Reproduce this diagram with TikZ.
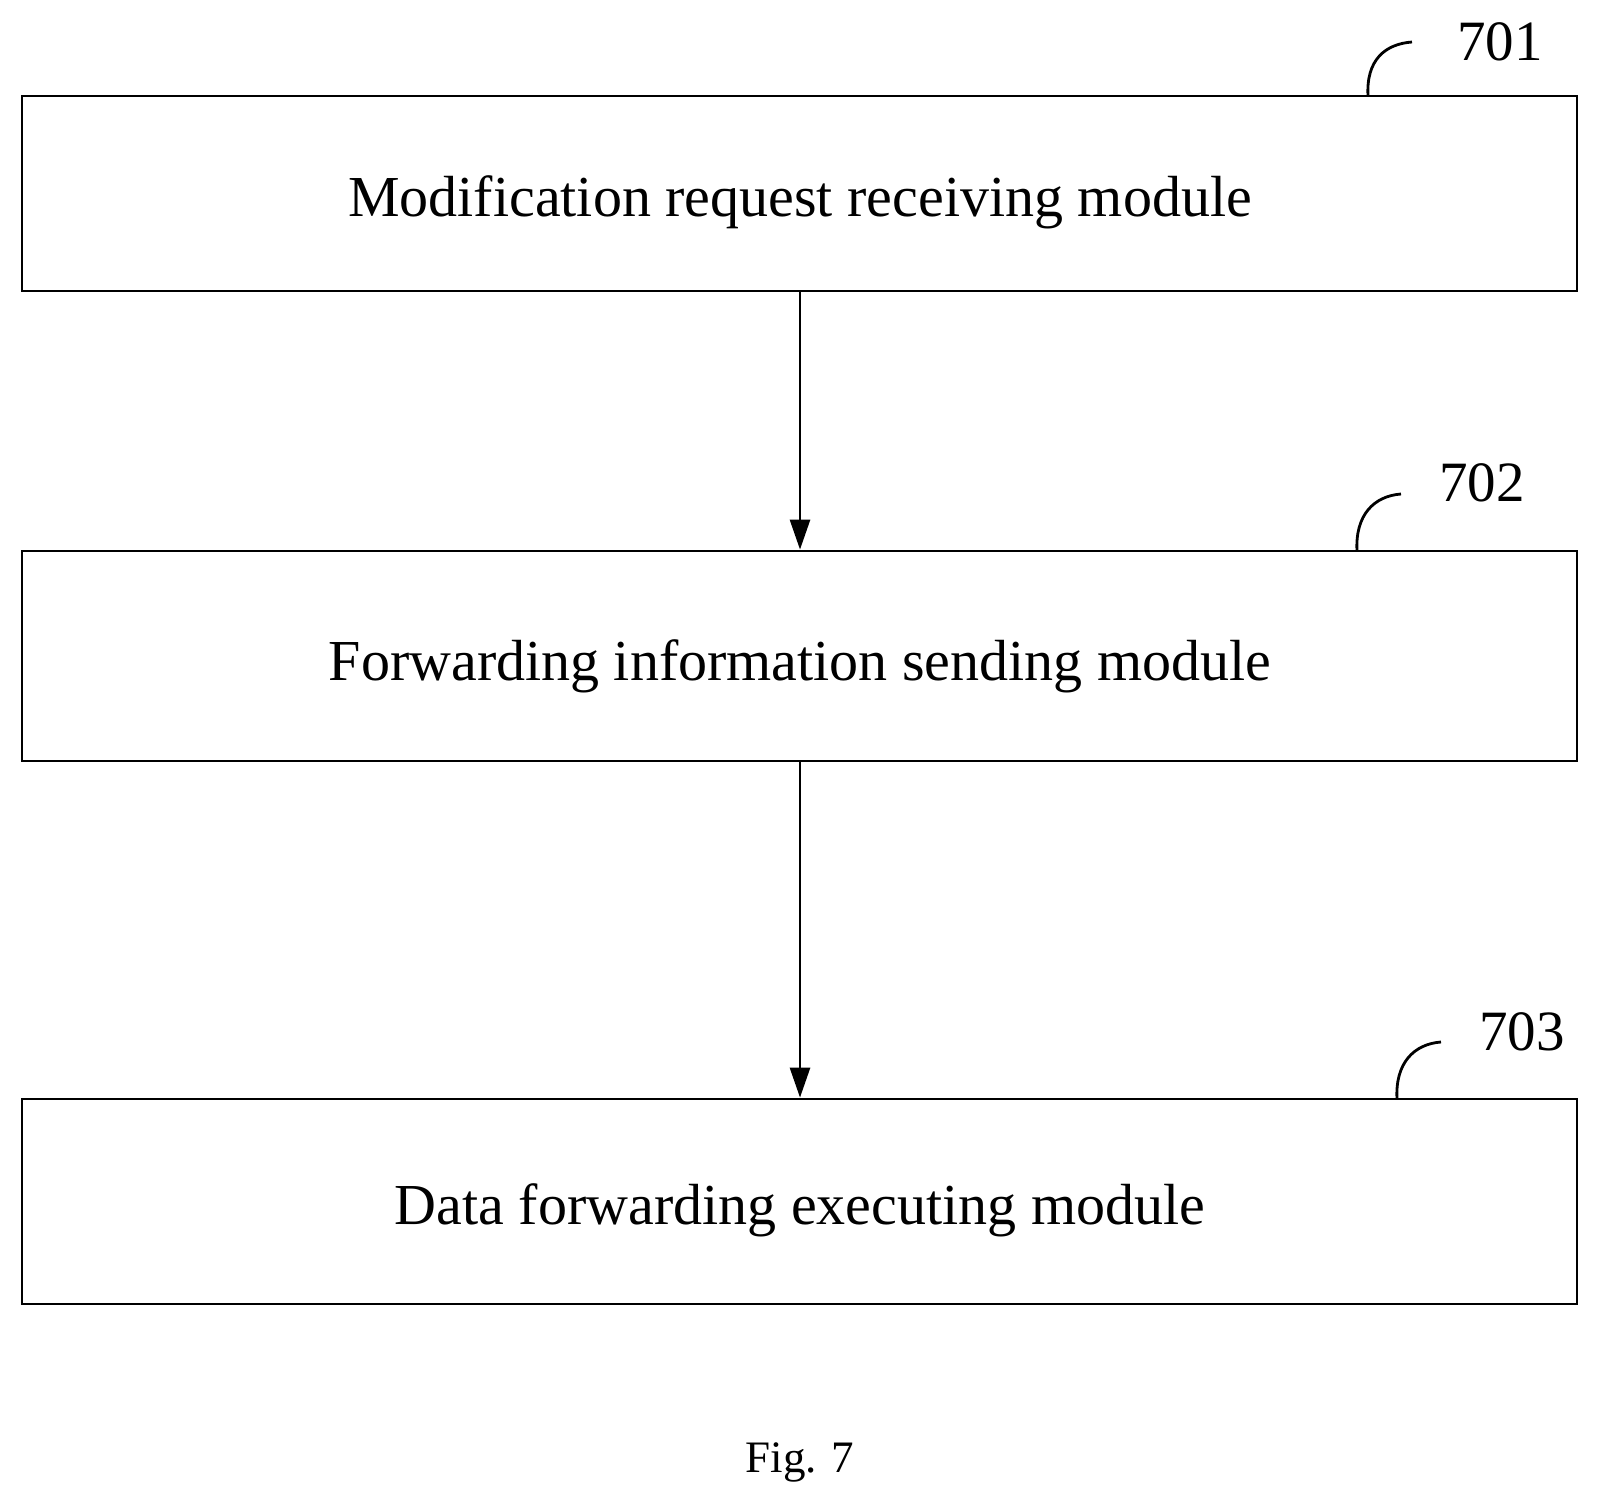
\documentclass[tikz,border=0pt]{standalone}
\usepackage{fontspec}
\setmainfont{Liberation Serif}
\usetikzlibrary{arrows.meta}
\begin{document}
\begin{tikzpicture}[x=1pt,y=-1pt,
  box/.style={draw,line width=2.8pt,minimum width=1555pt,inner sep=0pt},
  txt/.style={font=\fontsize{58}{70}\selectfont},
  arr/.style={line width=2.8pt,-{Triangle[length=30pt,width=20pt]}},
  lead/.style={line width=2.8pt},
  num/.style={font=\fontsize{57}{68}\selectfont}]
\useasboundingbox (0,0) rectangle (1597,1503);
\node[box,minimum height=195pt] (a) at (799.5,193.5) {};
\node[box,minimum height=210pt] (b) at (799.5,656) {};
\node[box,minimum height=205pt] (c) at (799.5,1201.5) {};
\node[txt] (ta) at (800,202) {Modification request receiving module};
\node[txt] (tb) at (800,666) {Forwarding information sending module};
\node[txt] (tc) at (800,1210) {Data forwarding executing module};
\draw[arr] (a.south -| 800,0) -- (b.north -| 800,0);
\draw[arr] (b.south -| 800,0) -- (c.north -| 800,0);
\node[num] (n1) at (1500,42) {701};
\node[num] (n2) at (1482,483) {702};
\node[num] (n3) at (1522,1032) {703};
\coordinate (e1) at (1368,96);
\coordinate (e2) at (1357,551);
\coordinate (e3) at (1397,1099);
\draw[lead] (e1) .. controls (1366,60) and (1385,44) .. (1412,42);
\draw[lead] (e2) .. controls (1355,515) and (1374,496) .. (1401,494);
\draw[lead] (e3) .. controls (1395,1063) and (1414,1044) .. (1441,1042);
\node[font=\fontsize{45}{54}\selectfont] (f) at (800,1462) {Fig. 7};
\end{tikzpicture}
\end{document}
